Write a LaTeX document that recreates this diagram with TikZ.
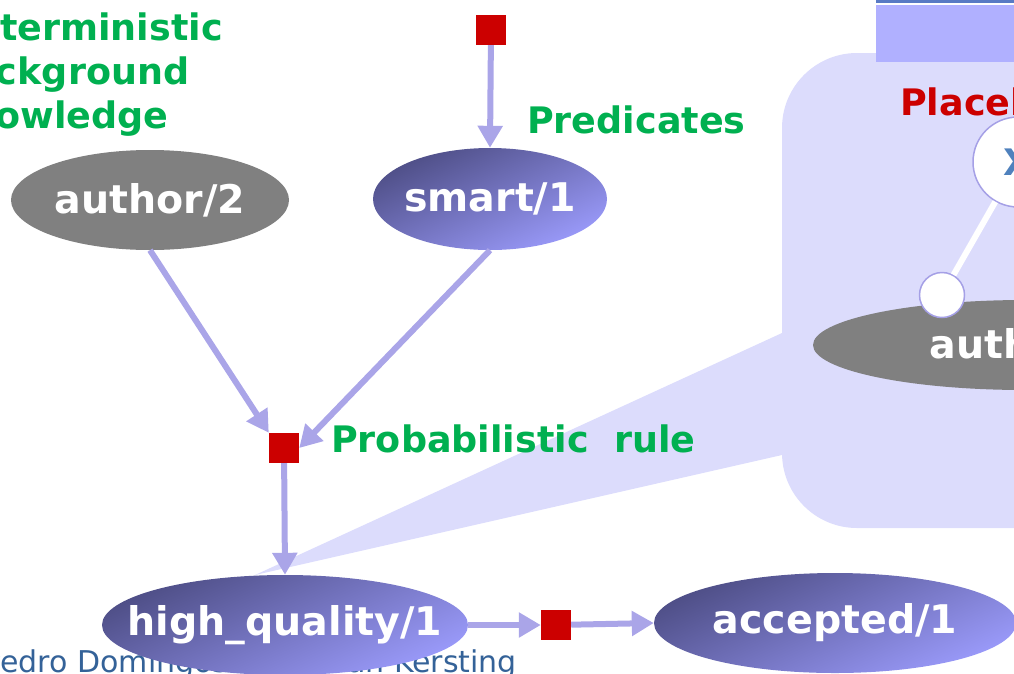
\documentclass[tikz,border=0pt]{standalone}
\usepackage{fontspec}
\setmainfont{DejaVu Sans}
\usetikzlibrary{shapes.geometric,arrows.meta}

\definecolor{rulegreen}{RGB}{0,176,80}
\definecolor{factorred}{RGB}{204,0,0}
\definecolor{linkblue}{RGB}{170,165,232}
\definecolor{calloutbg}{RGB}{220,220,252}
\definecolor{barblue}{RGB}{176,176,255}
\definecolor{barline}{RGB}{88,122,196}
\definecolor{preddark}{RGB}{78,78,134}
\definecolor{predlight}{RGB}{154,154,250}
\definecolor{creditblue}{RGB}{52,98,152}
\definecolor{varblue}{RGB}{79,129,189}
\definecolor{ringblue}{RGB}{165,160,230}

\tikzset{
	% negative sep so that the minimum sizes fix the ellipses
	pred/.style={ellipse, inner xsep=-80pt, inner ysep=-25pt, text=white, font=\bfseries\fontsize{39.5}{42}\selectfont},
	learned/.style={pred, top color=preddark, bottom color=predlight, shading angle=25},
	known/.style={pred, fill=gray},
	factor/.style={rectangle, fill=factorred, minimum size=30pt, inner sep=0pt},
	link/.style={-{Triangle[width=24pt,length=22pt]}, line width=6pt, draw=linkblue},
	lbl/.style={text=rulegreen, font=\bfseries\fontsize{36.5}{44}\selectfont, inner sep=0pt}
}

\begin{document}
\begin{tikzpicture}[x=1pt,y=-1pt]
	\useasboundingbox (0,0) rectangle (1014,673);
	\clip (0,0) rectangle (1014,673);

	% zoom callout for the rule
	\fill[calloutbg, rounded corners=75pt] (782,53) rectangle (1120,528);
	\fill[calloutbg] (255,575) -- (782,333) -- (782,455) -- cycle;
	\fill[barblue] (876,5) rectangle (1014,62);
	\fill[barline] (876,0) rectangle (1014,3);

	\node	(place)	at	(900,115)	[anchor=base west, inner sep=0pt, text=factorred, font=\bfseries\fontsize{36.5}{44}\selectfont]{Placeholder};
	\node	(authr)	at	(1025,345)	[known, minimum width=424pt, minimum height=90pt]{author/2};
	\node	(varX)	at	(1018,162)	[circle, fill=white, draw=ringblue, line width=1.5pt, minimum size=90pt, inner sep=0pt, text=varblue, font=\bfseries\fontsize{36.5}{44}\selectfont]{X};
	\node	(vardot)	at	(942,295)	[circle, fill=white, draw=ringblue, line width=1.5pt, minimum size=45pt, inner sep=0pt]{};
	\draw[white, line width=6pt] (vardot) -- (varX);

	% labels
	\node	(detlbl)	at	(-55,128)	[lbl, anchor=base west, align=left]{Deterministic\\background\\knowledge};
	\node	(predlbl)	at	(527,133)	[lbl, anchor=base west]{Predicates};
	\node	(rulelbl)	at	(331,452)	[lbl, anchor=base west]{Probabilistic~~rule};
	\node	(credit)	at	(517,672)	[anchor=base east, inner sep=0pt, text=creditblue, font=\fontsize{30}{36}\selectfont]{Pedro Domingos \& Kristian Kersting};

	% predicates and factors
	\node	(author)	at	(150,200)	[known, minimum width=278pt, minimum height=100pt]{author/2};
	\node	(smart)	at	(490,199)	[learned, minimum width=234pt, minimum height=102pt]{smart/1};
	\node	(hq)	at	(285,625)	[learned, minimum width=366pt, minimum height=100pt]{high\_quality/1};
	\node	(acc)	at	(835,623)	[learned, minimum width=362pt, minimum height=100pt]{accepted/1};

	\node	(fprior)	at	(491,30)	[factor]{};
	\node	(frule)	at	(284,448)	[factor]{};
	\node	(facc)	at	(556,625)	[factor]{};

	\draw[link] (fprior) -- (smart.north);
	\draw[link] (author.south) -- (frule.north west);
	\draw[link] (smart.south) -- (frule.east);
	\draw[link] (frule) -- (hq.north);
	\draw[link] (hq.east) -- (facc);
	\draw[link] (facc) -- (acc.west);

\end{tikzpicture}
\end{document}
